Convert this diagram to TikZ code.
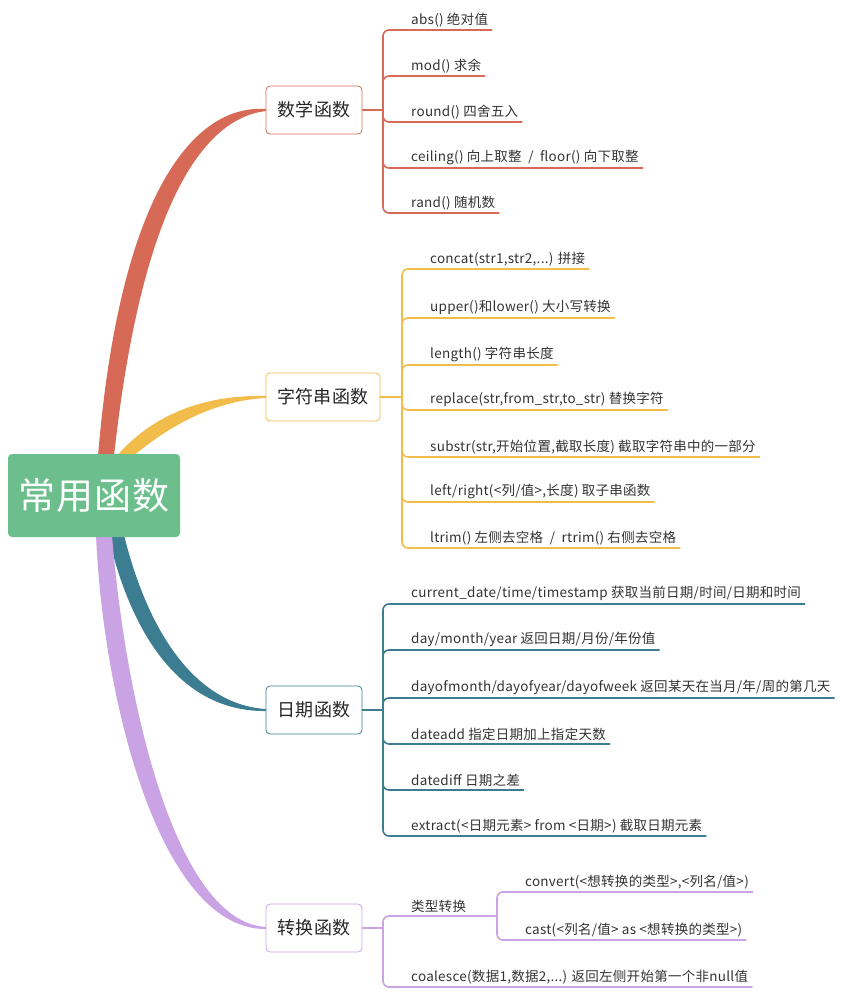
\documentclass[tikz,border=0pt]{standalone}
\usepackage{fontspec}
\setmainfont{Noto Sans CJK SC}[LetterSpace=2]
\begin{document}
\begin{tikzpicture}[x=1pt,y=-1pt,
  leaf/.style={font=\fontsize{13.5}{15}\selectfont, text=black!80, inner xsep=4pt, inner ysep=3pt, anchor=south west},
  br/.style={draw=#1, line width=0.8pt, rounded corners=4pt, fill=white, minimum height=48pt, font=\fontsize{18}{20}\selectfont, text=black!85, inner xsep=8pt},
  ln/.style={draw=#1, line width=1.6pt, rounded corners=6pt}]
\definecolor{cr}{HTML}{D66A57}
\definecolor{cy}{HTML}{F2BC4A}
\definecolor{ct}{HTML}{3C7D91}
\definecolor{cp}{HTML}{C9A3E3}
\definecolor{cg}{HTML}{6CBF8C}
\useasboundingbox (0,0) rectangle (856,993);
% tapered branches
\fill[cr] (98,456) .. controls (120,190) and (195,104) .. (266,109) -- (266,111) .. controls (205,118) and (142,200) .. (114,456) -- cycle;
\fill[cy] (115,458) .. controls (160,405) and (220,395) .. (266,396) -- (266,398) .. controls (222,400) and (175,420) .. (131,458) -- cycle;
\fill[ct] (108,535) .. controls (135,650) and (190,712) .. (266,711) -- (266,709) .. controls (200,705) and (150,640) .. (124,535) -- cycle;
\fill[cp] (96,535) .. controls (103,700) and (160,930) .. (266,929) -- (266,927) .. controls (175,922) and (125,700) .. (112,535) -- cycle;
\node[fill=cg, rounded corners=4pt, minimum width=172pt, minimum height=83pt, text=white, font=\fontsize{37}{40}\selectfont] (root) at (94,495.5) {常用函数};
% math
\node[br=cr, minimum width=96pt] (m) at (314,110) {数学函数};
\coordinate (mh) at (383,110);
\node[leaf] (m1) at (407,30) {abs() 绝对值};
\node[leaf] (m2) at (407,76) {mod() 求余};
\node[leaf] (m3) at (407,122) {round() 四舍五入};
\node[leaf] (m4) at (407,168) {ceiling() 向上取整 \ / \ floor() 向下取整};
\node[leaf] (m5) at (407,213) {rand() 随机数};
\draw[ln=cr] (m.east) -- (mh);
\foreach \i in {1,...,5} \draw[ln=cr] (mh) |- (m\i.south east);
% string
\node[br=cy, minimum width=114pt] (s) at (323,397) {字符串函数};
\coordinate (sh) at (402,397);
\node[leaf] (s1) at (426,269) {concat(str1,str2,...) 拼接};
\node[leaf] (s2) at (426,318) {upper()和lower() 大小写转换};
\node[leaf] (s3) at (426,365) {length() 字符串长度};
\node[leaf] (s4) at (426,410) {replace(str,from\_str,to\_str) 替换字符};
\node[leaf] (s5) at (426,457) {substr(str,开始位置,截取长度) 截取字符串中的一部分};
\node[leaf] (s6) at (426,502) {left/right(<列/值>,长度) 取子串函数};
\node[leaf] (s7) at (426,548) {ltrim() 左侧去空格 \ / \ rtrim() 右侧去空格};
\draw[ln=cy] (s.east) -- (sh);
\foreach \i in {1,...,7} \draw[ln=cy] (sh) |- (s\i.south east);
% date
\node[br=ct, minimum width=96pt] (d) at (314,710) {日期函数};
\coordinate (dh) at (383,710);
\node[leaf] (d1) at (407,604) {current\_date/time/timestamp 获取当前日期/时间/日期和时间};
\node[leaf] (d2) at (407,650) {day/month/year 返回日期/月份/年份值};
\node[leaf] (d3) at (407,698) {dayofmonth/dayofyear/dayofweek 返回某天在当月/年/周的第几天};
\node[leaf] (d4) at (407,744) {dateadd 指定日期加上指定天数};
\node[leaf] (d5) at (407,790) {datediff 日期之差};
\node[leaf] (d6) at (407,836) {extract(<日期元素> from <日期>) 截取日期元素};
\draw[ln=ct] (d.east) -- (dh);
\foreach \i in {1,...,6} \draw[ln=ct] (dh) |- (d\i.south east);
% convert
\node[br=cp, minimum width=96pt] (c) at (314,928) {转换函数};
\coordinate (ch) at (383,928);
\node[leaf] (c1) at (407,916) {类型转换};
\coordinate (c1h) at (497,916);
\node[leaf] (c11) at (521,892) {convert(<想转换的类型>,<列名/值>)};
\node[leaf] (c12) at (521,940) {cast(<列名/值> as <想转换的类型>)};
\node[leaf] (c2) at (407,987) {coalesce(数据1,数据2,...) 返回左侧开始第一个非null值};
\draw[ln=cp] (c.east) -- (ch);
\draw[ln=cp] (ch) |- (c1h);
\draw[ln=cp] (ch) |- (c2.south east);
\draw[ln=cp] (c1h) |- (c11.south east);
\draw[ln=cp] (c1h) |- (c12.south east);
\end{tikzpicture}
\end{document}
